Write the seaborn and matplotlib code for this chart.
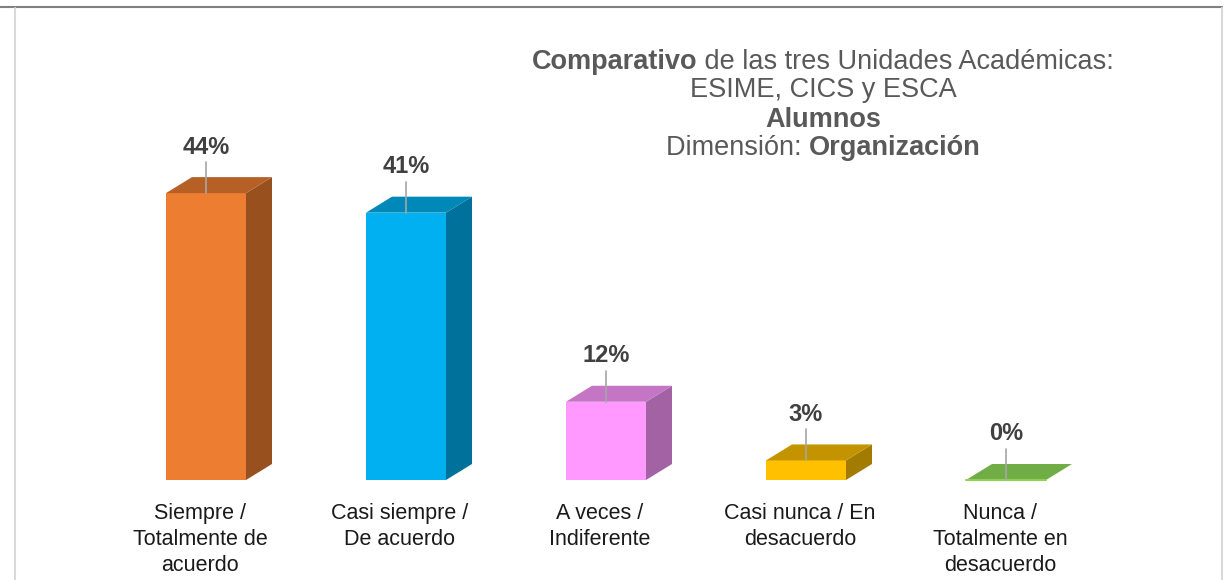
import numpy as np
import pandas as pd
import matplotlib
matplotlib.use("Agg")
import matplotlib.pyplot as plt
import matplotlib.colors as mcolors
from matplotlib.patches import Polygon
from matplotlib.lines import Line2D
import seaborn as sns

# data
categories = ["Siempre /\nTotalmente de\nacuerdo",
              "Casi siempre /\nDe acuerdo",
              "A veces /\nIndiferente",
              "Casi nunca / En\ndesacuerdo",
              "Nunca /\nTotalmente en\ndesacuerdo"]
values = [44, 41, 12, 3, 0]
value_labels = ["44%", "41%", "12%", "3%", "0%"]
bar_colors = ["#ED7D31", "#00B0F0", "#FF99FF", "#FFC000", "#70AD47"]

title_lines = [
    [("Comparativo", "bold"), (" de las tres Unidades Académicas:", "normal")],
    [("ESIME, CICS y ESCA", "normal")],
    [("Alumnos", "bold")],
    [("Dimensión: ", "normal"), ("Organización", "bold")],
]

sns.set_style("white")
plt.rcParams["font.family"] = ["Liberation Sans", "DejaVu Sans"]

W, H = 1227, 580
fig = plt.figure(figsize=(W / 100, H / 100), dpi=100)
ax = fig.add_axes([0, 0, 1, 1])

df = pd.DataFrame({"cat": categories, "val": values})
sns.barplot(data=df, x="cat", y="val", hue="cat", palette=bar_colors,
            legend=False, width=0.4, ax=ax, linewidth=0, saturation=1)

# pixel mapping: bar centers 206 + 200*i, baseline at 480 px, ~6.52 px per %
px_per_unit = 6.52
ax.set_xlim((0 - 206) / 200, (W - 206) / 200)
ax.set_ylim(-(H - 480) / px_per_unit, 480 / px_per_unit)
ax.axis("off")

dx = 26 / 200
dy = 16 / px_per_unit


def shade(c, f):
    r, g, b = mcolors.to_rgb(c)
    return (r * f, g * f, b * f)


for i, bar in enumerate(ax.patches):
    x0 = bar.get_x()
    w = bar.get_width()
    h = bar.get_height()
    c = bar_colors[i]
    # right side face
    side = Polygon([(x0 + w, 0), (x0 + w + dx, dy), (x0 + w + dx, h + dy), (x0 + w, h)],
                   closed=True, facecolor=shade(c, 0.64), edgecolor="none", zorder=2)
    ax.add_patch(side)
    # top face
    top_c = c if h == 0 else shade(c, 0.77)
    top = Polygon([(x0, h), (x0 + dx, h + dy), (x0 + w + dx, h + dy), (x0 + w, h)],
                  closed=True, facecolor=top_c, edgecolor="none", zorder=2)
    ax.add_patch(top)
    if h == 0:
        ax.plot([x0, x0 + w], [0, 0], color="#92D050", lw=1.5, zorder=3)
    # leader line and value label
    cx = x0 + w / 2
    ax.plot([cx, cx], [h, h + 31 / px_per_unit], color="#A6A6A6", lw=1.2, zorder=4)
    ax.text(cx, h + 46 / px_per_unit, value_labels[i], ha="center", va="center",
            fontsize=17, fontweight="bold", color="#404040", zorder=5)

# category labels under the bars
for i, cat in enumerate(categories):
    ax.text(i - 0.03, -(503 - 480) / px_per_unit, cat, ha="center", va="top",
            fontsize=15.5, color="#1A1A1A", linespacing=1.3)

# title, built from pieces so bold and regular parts sit on one line
fig.canvas.draw()
renderer = fig.canvas.get_renderer()
title_y = [62, 90, 120, 148]
title_cx = 823
for line, ypx in zip(title_lines, title_y):
    pieces = []
    for txt, wt in line:
        t = fig.text(0, 1 - ypx / H, txt, fontsize=19.5, fontweight=wt,
                     color="#595959", ha="left", va="center")
        pieces.append(t)
    widths = [p.get_window_extent(renderer).width for p in pieces]
    x = title_cx - sum(widths) / 2
    for p, wdt in zip(pieces, widths):
        p.set_x(x / W)
        x += wdt

# frame lines seen in the reference
fig.add_artist(Line2D([0, 1222 / W], [1 - 7 / H, 1 - 7 / H], color="#808080", lw=1.5))
fig.add_artist(Line2D([15 / W, 15 / W], [0, 1 - 8 / H], color="#D9D9D9", lw=1.5))
fig.add_artist(Line2D([1222 / W, 1222 / W], [0, 1 - 8 / H], color="#D9D9D9", lw=1.5))

fig.savefig("out.png", dpi=100)
